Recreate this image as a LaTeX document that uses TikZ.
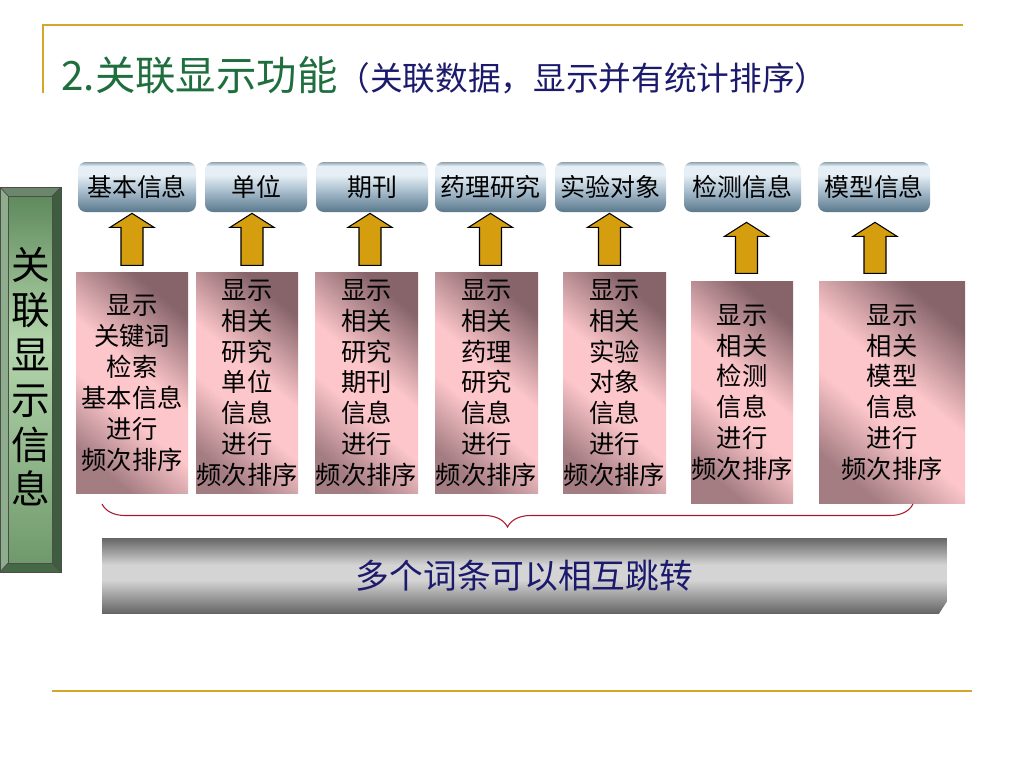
\documentclass[tikz,border=0pt]{standalone}
\usepackage{fontspec}
\setmainfont{Noto Sans CJK SC}
\usetikzlibrary{arrows.meta,positioning,calc,decorations.pathreplacing}

\definecolor{rulegold}{HTML}{D4A62A}
\definecolor{titlegreen}{HTML}{1E6E3E}
\definecolor{titlenavy}{HTML}{1C1A6C}
\definecolor{arrowgold}{HTML}{D49E0E}
\definecolor{bracered}{HTML}{A8182E}
\definecolor{headdark}{HTML}{5A788C}
\definecolor{headmid}{HTML}{A4BACA}
\definecolor{headlight}{HTML}{E6EFF5}
\definecolor{headedge}{HTML}{8EA2B0}
\definecolor{rosepink}{HTML}{FCC6CA}
\definecolor{rosedark}{HTML}{86646A}
\definecolor{bardark}{HTML}{666666}
\definecolor{barlight}{HTML}{D4D4D4}
\definecolor{sidedark}{HTML}{3E5C3E}
\definecolor{sidemid}{HTML}{5E8A5C}
\definecolor{sidelight}{HTML}{B4D6AC}

\pgfdeclareverticalshading{headshade}{100bp}{color(0bp)=(headdark); color(25bp)=(headdark);
  color(45bp)=(headmid); color(62bp)=(headlight); color(71bp)=(headlight); color(75bp)=(headedge); color(100bp)=(headedge)}
\pgfdeclareverticalshading{roseshade}{100bp}{color(0bp)=(rosedark!75!rosepink); color(25bp)=(rosedark!75!rosepink);
  color(42bp)=(rosepink); color(54bp)=(rosepink); color(75bp)=(rosedark); color(100bp)=(rosedark)}
\pgfdeclareverticalshading{barshade}{100bp}{color(0bp)=(bardark); color(25bp)=(bardark);
  color(47bp)=(barlight); color(57bp)=(barlight); color(75bp)=(bardark); color(100bp)=(bardark)}
\pgfdeclareverticalshading{sideshade}{100bp}{color(0bp)=(sidemid!80!sidelight); color(25bp)=(sidemid!80!sidelight);
  color(55bp)=(sidelight); color(75bp)=(sidemid); color(100bp)=(sidemid)}

\begin{document}
\begin{tikzpicture}[x=0.02cm,y=-0.02cm,
  headbox/.style={rounded corners=4.5pt, shading=headshade, minimum height=1cm, inner sep=0pt,
                  font=\fontsize{14.2}{17}\selectfont},
  infobox/.style={shading=roseshade, shading angle=-40, minimum height=4.43cm, inner sep=0pt,
                  align=center, font=\fontsize{14.4}{17.6}\selectfont},
  fatarrow/.style={fill=arrowgold, draw=black, line width=0.6pt},
  jumpbar/.style={shading=barshade, minimum width=16.9cm, minimum height=1.5cm, inner sep=0pt,
                  text=titlenavy, font=\fontsize{19.2}{22}\selectfont},
  goldrule/.style={draw=rulegold, line width=1.2pt}]
\useasboundingbox (0,0) rectangle (1024,768);

% frame lines
\draw[goldrule] (43,93) -- (43,25) -- (963,25);
\draw[goldrule] (52,691) -- (972,691);

\node[anchor=west, inner sep=0pt] (title) at (61,75)
  {{\color{titlegreen}\fontsize{23}{28}\selectfont 2.关联显示功能}{\color{titlenavy}\fontsize{18.6}{22}\selectfont （关联数据，显示并有统计排序）}};

% side panel
\fill[sidemid!70!white] (0,187) rectangle (61,572);
\fill[sidedark] (61,187) -- (52,196) -- (52,563) -- (61,572) -- cycle;
\fill[sidemid!60!gray] (0,187) -- (61,187) -- (52,196) -- (8,196) -- cycle;
\fill[sidemid!75!black] (0,572) -- (61,572) -- (52,563) -- (8,563) -- cycle;
\shade[shading=sideshade] (8,196) rectangle (52,563);
\draw[black!70, line width=0.5pt] (0,187) rectangle (61,572) (8,196) rectangle (52,563);
\draw[black!70, line width=0.4pt] (0,187) -- (8,196) (61,187) -- (52,196) (0,572) -- (8,563) (61,572) -- (52,563);
\node[align=center, inner sep=0pt, font=\fontsize{22}{25.5}\selectfont] (side) at (31,377)
  {关\\联\\显\\示\\信\\息};

\foreach \i/\x/\w/\name in {1/137/118/基本信息, 2/256/102/单位, 3/372/112/期刊, 4/490.5/111/药理研究,
                            5/610.5/111/实验对象, 6/742.5/117/检测信息, 7/874/112/模型信息}
  \node[headbox, minimum width=\w*0.02cm] (h\i) at (\x,187) {\name};

\foreach \i/\x/\y/\w/\body in {1/132/383/112/{显示\\关键词\\检索\\基本信息\\进行\\频次排序},
                              2/247/383/102/{显示\\相关\\研究\\单位\\信息\\进行\\频次排序},
                              3/366.5/383/103/{显示\\相关\\研究\\期刊\\信息\\进行\\频次排序},
                              4/486.5/383/103/{显示\\相关\\药理\\研究\\信息\\进行\\频次排序},
                              5/614.5/383/103/{显示\\相关\\实验\\对象\\信息\\进行\\频次排序},
                              6/742/392.5/102/{显示\\相关\\检测\\信息\\进行\\频次排序},
                              7/892/392.5/146/{显示\\相关\\模型\\信息\\进行\\频次排序}}
  \node[infobox, minimum width=\w*0.02cm] (p\i) at (\x,\y) {\body};

% arrows up to the heads
\foreach \i/\dx/\gap/\shaft in {1/-5/1/38, 2/-4/1/38, 3/-2/1/38, 4/0/1/38, 5/-1/1/38, 6/4/10/37, 7/1/10/37}
  \draw[fatarrow] ($(h\i.south)+(\dx,\gap)$) -- ++(22,14) -- ++(-11,0) -- ++(0,\shaft)
    -- ++(-22,0) -- ++(0,-\shaft) -- ++(-11,0) -- cycle;

\draw[bracered, line width=0.6pt, decorate, decoration={brace, mirror, amplitude=0.46cm}]
  (102,504) -- (913,504);

\node[jumpbar] (jump) at (524.5,575.5) {多个词条可以相互跳转};
\fill[white] (948,600) -- (948,614) -- (939,614) -- cycle;
\end{tikzpicture}
\end{document}
